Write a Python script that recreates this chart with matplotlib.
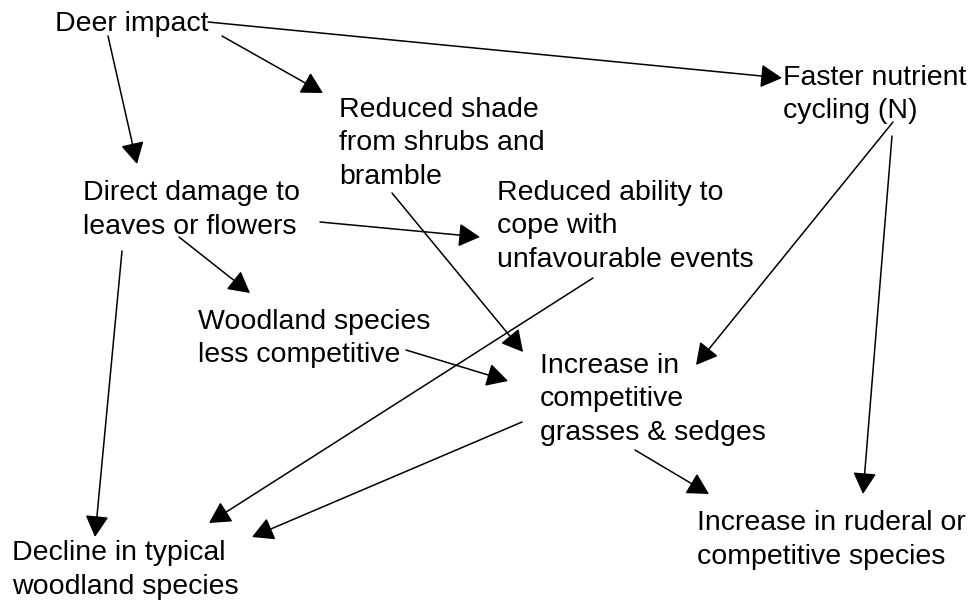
import matplotlib.pyplot as plt

# node labels and where each text block starts (left x, first baseline y) in pixel space
labels = [
    "Deer impact",
    "Reduced shade\nfrom shrubs and\nbramble",
    "Faster nutrient\ncycling (N)",
    "Direct damage to\nleaves or flowers",
    "Reduced ability to\ncope with\nunfavourable events",
    "Woodland species\nless competitive",
    "Increase in\ncompetitive\ngrasses & sedges",
    "Decline in typical\nwoodland species",
    "Increase in ruderal or\ncompetitive species",
]
label_x = [55, 339, 783, 83, 497, 198, 540, 12, 697]
label_y = [31, 117, 85, 200, 200, 329, 373, 560, 530]

# arrows: (start x, start y, tip x, tip y)
arrow_start_x = [108, 222, 208, 320, 179, 122, 392, 593, 406, 893, 892, 522, 635]
arrow_start_y = [36, 36, 22, 222, 237, 251, 193, 278, 350, 122, 136, 422, 450]
arrow_tip_x = [137, 323, 782, 480, 250, 95, 523, 209, 508, 696, 863, 252, 709]
arrow_tip_y = [164, 93, 78, 237, 293, 537, 352, 523, 381, 365, 494, 537, 494]

plt.rcParams['font.family'] = ['Liberation Sans', 'DejaVu Sans']

fig = plt.figure(figsize=(9.73, 6.01), dpi=100)
ax = fig.add_axes([0, 0, 1, 1])
ax.set_xlim(0, 973)
ax.set_ylim(601, 0)
ax.axis('off')

line_px = 33.5  # baseline to baseline distance
for txt, x, y in zip(labels, label_x, label_y):
    # matplotlib puts the last line on the baseline, so shift down
    ax.text(x, y + txt.count('\n') * line_px, txt, fontsize=20.5,
            ha='left', va='baseline', linespacing=1.38, color='black')

for x0, y0, x1, y1 in zip(arrow_start_x, arrow_start_y, arrow_tip_x, arrow_tip_y):
    ax.annotate('', xy=(x1, y1), xytext=(x0, y0),
                arrowprops=dict(arrowstyle='-|>,head_length=0.55,head_width=0.3',
                                mutation_scale=24, color='black', lw=1.1,
                                shrinkA=0, shrinkB=0))

fig.savefig('out.png', dpi=100, facecolor='white')
